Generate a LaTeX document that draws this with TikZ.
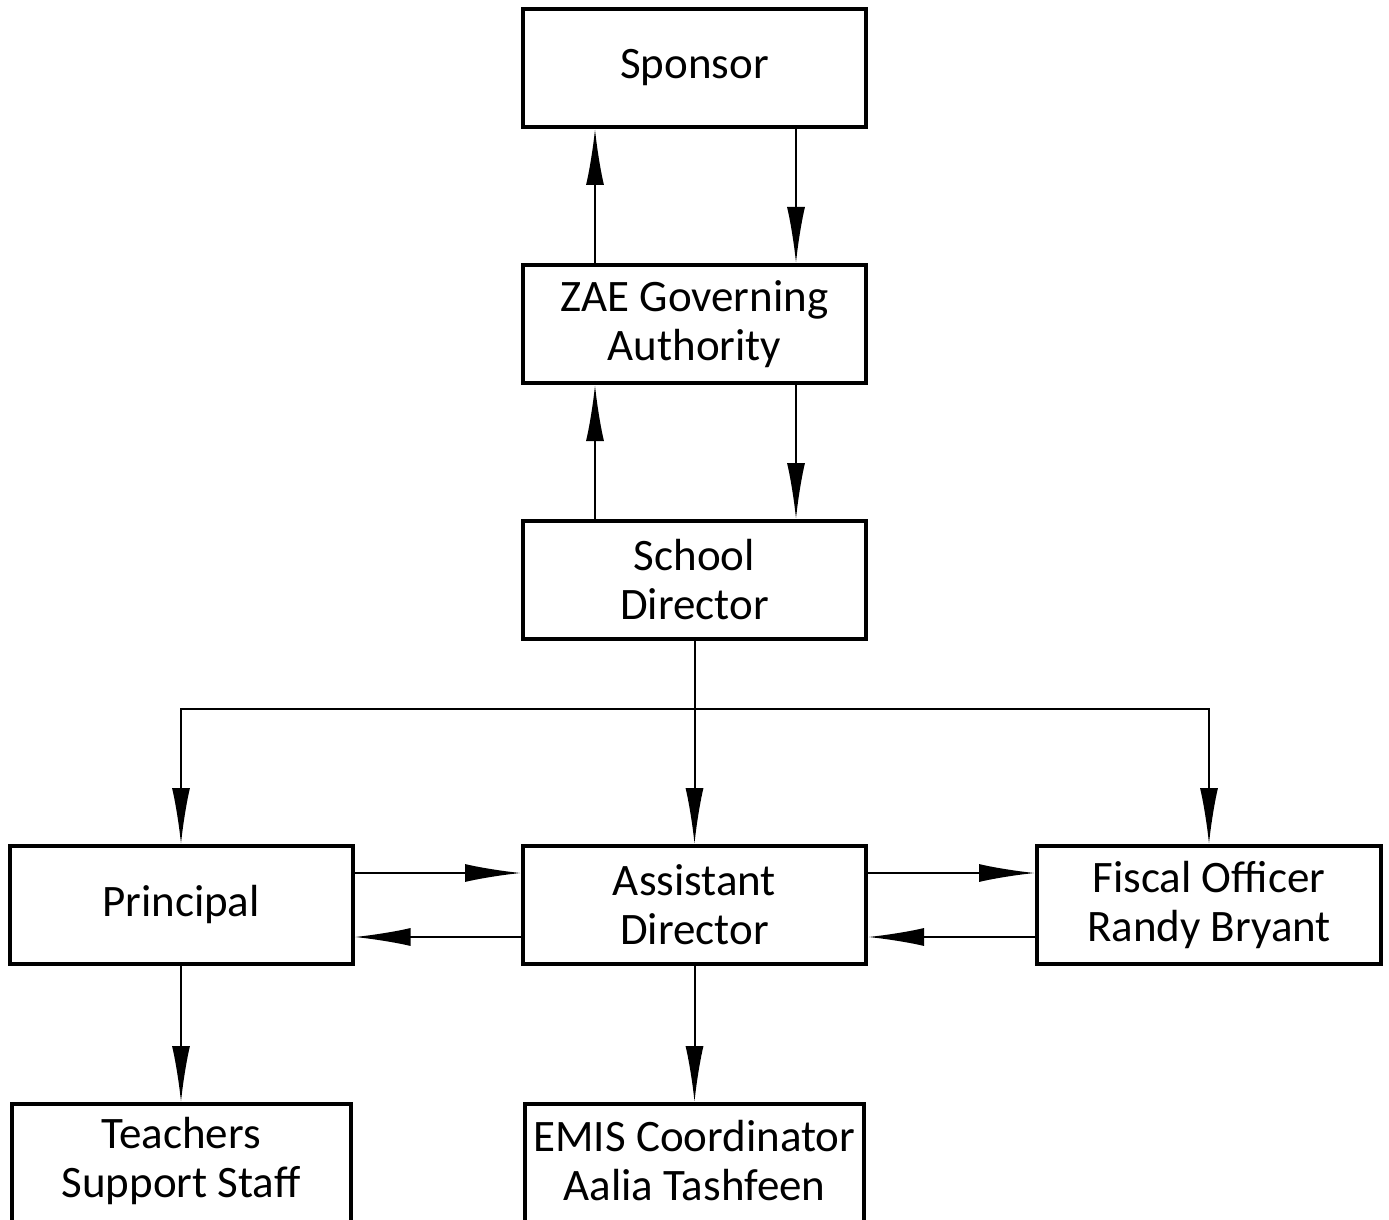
\documentclass[tikz,border=0pt]{standalone}
\usepackage{fontspec}
\setmainfont{Carlito}
\usetikzlibrary{arrows.meta}
\begin{document}
\begin{tikzpicture}[x=0.5pt,y=-0.5pt,
  box/.style={draw, line width=2pt, minimum width=171.5pt, minimum height=59pt, inner sep=0pt, align=center, font=\fontsize{22.5}{24.5}\selectfont},
  openbox/.style={box, draw=none, outer sep=0pt, minimum width=169.5pt, minimum height=57pt},
  boxline/.style={line width=2pt, line join=miter},
  arr/.style={line width=1pt, -{Latex[length=28pt,width=9pt]}}]
\useasboundingbox (0,0) rectangle (1389,1220);
\node[box] (sp) at (694.5,68) {Sponsor};
\node[box] (zae) at (694.5,324) {ZAE Governing\\Authority};
\node[box] (sd) at (694.5,580) {School\\Director};
\node[box] (pr) at (181,905) {Principal};
\node[box] (ad) at (694.5,905) {Assistant\\Director};
\node[box, minimum width=172pt] (fo) at (1209,905) {Fiscal Officer\\Randy Bryant};
\node[openbox] (ts) at (181,1161) {Teachers\\Support Staff};
\node[openbox] (em) at (694.5,1161) {EMIS Coordinator\\Aalia Tashfeen};
\draw[boxline] ([yshift=-10pt]ts.south west) |- (ts.north east) -- ([yshift=-10pt]ts.south east);
\draw[boxline] ([yshift=-10pt]em.south west) |- (em.north east) -- ([yshift=-10pt]em.south east);
\coordinate (bus) at (694.5,709);
% vertical pairs
\draw[arr] (zae.north -| 595,0) -- (sp.south -| 595,0);
\draw[arr] (sp.south -| 796,0) -- (zae.north -| 796,0);
\draw[arr] (sd.north -| 595,0) -- (zae.south -| 595,0);
\draw[arr] (zae.south -| 796,0) -- (sd.north -| 796,0);
% bus
\draw[arr] (sd.south) -- (ad.north);
\draw[arr] (bus) -| (pr.north);
\draw[arr] (bus) -| (fo.north);
% horizontal pairs
\draw[arr] (pr.east |- 0,873) -- (ad.west |- 0,873);
\draw[arr] (ad.west |- 0,937) -- (pr.east |- 0,937);
\draw[arr] (ad.east |- 0,873) -- (fo.west |- 0,873);
\draw[arr] (fo.west |- 0,937) -- (ad.east |- 0,937);
% down
\draw[arr] (pr.south) -- ([yshift=1pt]ts.north);
\draw[arr] (ad.south) -- ([yshift=1pt]em.north);
\end{tikzpicture}
\end{document}
